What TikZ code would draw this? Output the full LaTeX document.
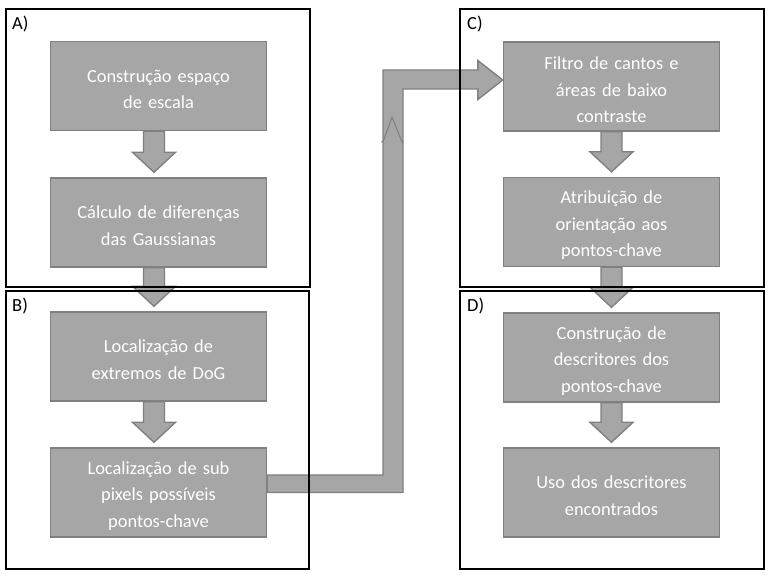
\documentclass[tikz,border=0pt]{standalone}
\usepackage{fontspec}
\setmainfont{Carlito}
\usetikzlibrary{calc}
\definecolor{boxfill}{HTML}{A6A6A6}
\definecolor{boxline}{HTML}{808080}
\tikzset{
  stepbox/.style={draw=boxline, fill=boxfill, line width=1.4pt, minimum width=216pt, minimum height=89pt,
    text width=212pt, align=center, inner sep=0pt, text=white, font=\fontsize{18.4}{26.5}\selectfont,
    execute at begin node=\rule{0pt}{19.5pt}},
  frame/.style={draw=black, line width=1.9pt},
  arr/.style={draw=boxline, fill=boxfill, line width=1.4pt, line join=miter},
  lab/.style={anchor=north west, inner sep=0pt, font=\fontsize{18.5}{20}\selectfont}
}
\newcommand\dnarrow[3]{%
  \path[arr] let \p1=(#1.south), \p2=(#2.north) in
    (\x1+#3-10.5pt,\y1) -- (\x1+#3-10.5pt,\y2+25pt) -- (\x1+#3-21.5pt,\y2+25pt) --
    (\x1+#3,\y2+5pt) -- (\x1+#3+21.5pt,\y2+25pt) -- (\x1+#3+10.5pt,\y2+25pt) --
    (\x1+#3+10.5pt,\y1) -- cycle;}
\begin{document}
\begin{tikzpicture}[x=1pt,y=-1pt]
\useasboundingbox (0,0) rectangle (772,577);
% boxes
\node[stepbox] (a1) at (158.5,86) {Construção espaço\\de escala};
\node[stepbox] (a2) at (158.5,222.5) {Cálculo de diferenças\\das Gaussianas};
\node[stepbox] (b1) at (158.5,356.5) {Localização de\\extremos de DoG};
\node[stepbox] (b2) at (158.5,492.5) {Localização de sub\\pixels possíveis\\pontos-chave};
\node[stepbox] (c1) at (611.5,86.5) {Filtro de cantos e\\áreas de baixo\\contraste};
\node[stepbox] (c2) at (611.5,222) {Atribuição de\\orientação aos\\pontos-chave};
\node[stepbox] (d1) at (611.5,357.5) {Construção de\\descritores dos\\pontos-chave};
\node[stepbox] (d2) at (611.5,492.5) {Uso dos descritores\\encontrados};
% small arrows
\dnarrow{a1}{a2}{-4.5pt}
\dnarrow{a2}{b1}{-4.5pt}
\dnarrow{b1}{b2}{-4.5pt}
\dnarrow{c1}{c2}{0pt}
\dnarrow{c2}{d1}{0pt}
\dnarrow{d1}{d2}{0pt}
% big arrow
\path[arr] let \p1=(b2.east), \p2=(c1.west) in
  (\x1,\y1+17.5pt) -- (383pt,\y1+17.5pt) -- (383pt,\y2+16.5pt) -- (\x2-25pt,\y2+16.5pt) --
  (\x2-25pt,\y2+26pt) -- (\x2,\y2+6.5pt) -- (\x2-25pt,\y2-13pt) -- (\x2-25pt,\y2-2.5pt) --
  (403pt,\y2-2.5pt) -- (403pt,\y1) -- (\x1,\y1) -- cycle;
\coordinate (chvL) at (381,142);
\coordinate (chvT) at (392,117);
\coordinate (chvR) at (404,142);
\draw[boxline, line width=1pt] (chvL) -- ++(2,0) -- (chvT) -- ($(chvR)+(-2,0)$) -- (chvR);
% frames
\draw[frame] (6,9) rectangle (310,287);
\draw[frame] (6,291) rectangle (309,569);
\draw[frame] (460,9) rectangle (764,287);
\draw[frame] (460,291) rectangle (764,569);
\node[lab] (la) at (12,16) {A)};
\node[lab] (lb) at (12,298) {B)};
\node[lab] (lc) at (467,16) {C)};
\node[lab] (ld) at (467,298) {D)};
\end{tikzpicture}
\end{document}
